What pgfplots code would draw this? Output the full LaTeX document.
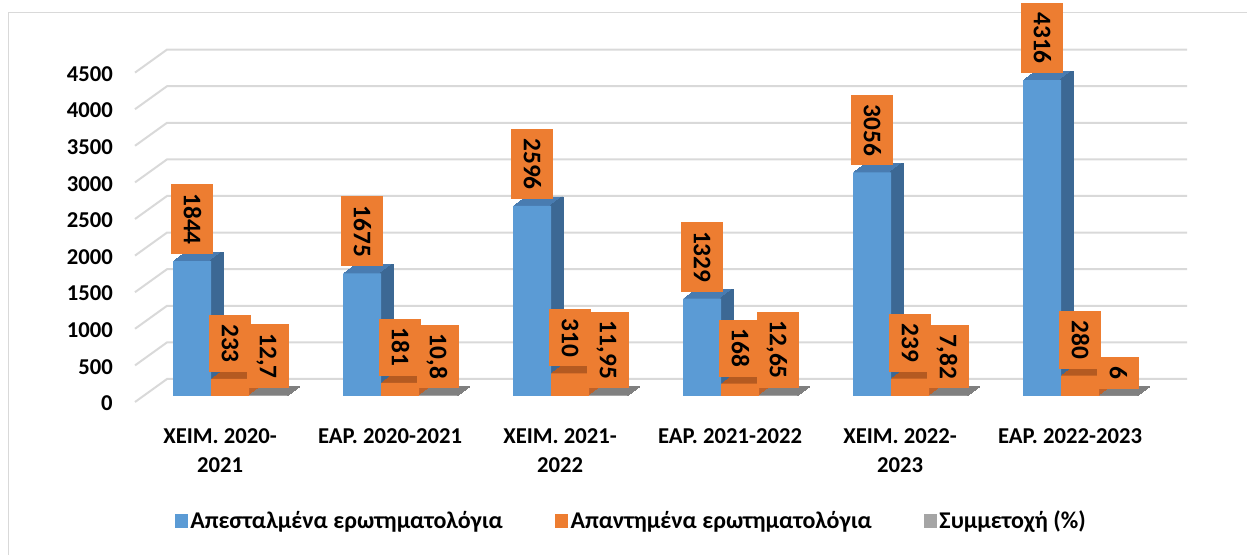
\documentclass[border=0pt]{standalone}
\usepackage{fontspec}
\setmainfont{Carlito}
\usepackage{pgfplots}
\usepackage{pgfplotstable}
\pgfplotsset{compat=1.18}
\definecolor{cblue}{HTML}{5B9BD5}
\definecolor{cbluetop}{HTML}{497CB1}
\definecolor{cbluedk}{HTML}{3C6894}
\definecolor{corange}{HTML}{ED7D31}
\definecolor{corangetop}{HTML}{B45A21}
\definecolor{corangedk}{HTML}{BF6128}
\definecolor{cgray}{HTML}{A5A5A5}
\definecolor{cgraydk}{HTML}{808080}
\definecolor{gridc}{HTML}{D9D9D9}

\pgfplotstableread{
x sent answered rate
0 1844 233 12.7
1 1675 181 10.8
2 2596 310 11.95
3 1329 168 12.65
4 3056 239 7.82
5 4316 280 6
}\datatable

\pgfplotsset{
  barbase/.style={ybar, bar width=28.5pt, draw=none,
    legend image code/.code={\fill[##1] (0pt,-4.9pt) rectangle (9.75pt,4.9pt);}},
  depth/.style={ybar, forget plot, line width=0.5pt},
  lbl/.style={nodes near coords,
    nodes near coords style={xshift=#1, yshift=5pt, rotate=-90, anchor=east, fill=corange, text=black,
      font=\fontsize{19}{19}\selectfont\bfseries, text height=12.2pt, text depth=0pt,
      inner xsep=7pt, inner ysep=9.3pt}},
}

\begin{document}
\begin{tikzpicture}
\draw[gridc, line width=0.75pt] (6pt,-20pt) -- (6pt,405.75pt) -- (960pt,405.75pt);
\begin{axis}[
  set layers,
  at={(108.75pt,118.5pt)}, anchor=south west,
  scale only axis, width=765pt, height=247.05pt,
  xmin=-0.5, xmax=5.5, ymin=0, ymax=4500,
  clip=false,
  axis line style={draw=none}, tick style={draw=none}, major tick length=0pt,
  ytick={0,500,...,4500},
  xtick={0,...,5},
  xticklabels={{ΧΕΙΜ. 2020-\\2021},{ΕΑΡ. 2020-2021},{ΧΕΙΜ. 2021-\\2022},{ΕΑΡ. 2021-2022},{ΧΕΙΜ. 2022-\\2023},{ΕΑΡ. 2022-2023}},
  /pgf/number format/.cd, use comma, 1000 sep={}, assume math mode=true, /pgfplots/.cd,
  yticklabel style={anchor=east, inner sep=0pt, xshift=-24pt, yshift=-5.5pt, font=\fontsize{17}{17}\selectfont\bfseries},
  xticklabel style={anchor=north, align=center, inner sep=0pt, xshift=-7.5pt, yshift=-24pt, font=\fontsize{17}{21.75}\selectfont\bfseries},
  legend columns=3,
  legend style={at={(0.477,-0.3795)}, anchor=center, draw=none, fill=none,
    font=\fontsize{18}{18}\selectfont\bfseries,
    nodes={inner xsep=2pt},
    /tikz/every even column/.append style={column sep=37pt}},
  legend cell align=left,
]
\begin{pgfonlayer}{axis background}
\pgfplotsinvokeforeach{0,500,...,4500}{
  \draw[gridc, line width=1.5pt]
    ([xshift=-7.5pt,yshift=-4.5pt]axis cs:-0.5,#1) --
    ([xshift=16.5pt,yshift=12.75pt]axis cs:-0.5,#1) --
    ([xshift=16.5pt,yshift=12.75pt]axis cs:5.5,#1);
}
\end{pgfonlayer}
% blue
\pgfplotsinvokeforeach{12,11,...,1}{
  \addplot[depth, bar width=28.5pt, bar shift=-28.5pt, fill=cbluetop, draw=cbluetop, xshift=#1*0.75pt, yshift=#1*0.5625pt] table[x=x,y=sent]{\datatable};
}
\pgfplotsinvokeforeach{12,11,...,1}{
  \addplot[depth, bar width=1pt, bar shift=-14.75pt, fill=cbluedk, draw=cbluedk, xshift=#1*0.75pt, yshift=#1*0.5625pt] table[x=x,y=sent]{\datatable};
}
\addplot[barbase, bar shift=-28.5pt, fill=cblue, lbl=-28.5pt] table[x=x,y=sent]{\datatable};
\addlegendentry{Απεσταλμένα ερωτηματολόγια}
% orange
\pgfplotsinvokeforeach{12,11,...,1}{
  \addplot[depth, bar width=28.5pt, bar shift=0pt, fill=corangetop, draw=corangetop, xshift=#1*0.75pt, yshift=#1*0.5625pt] table[x=x,y=answered]{\datatable};
}
\pgfplotsinvokeforeach{12,11,...,1}{
  \addplot[depth, bar width=1pt, bar shift=13.75pt, fill=corangedk, draw=corangedk, xshift=#1*0.75pt, yshift=#1*0.5625pt] table[x=x,y=answered]{\datatable};
}
\addplot[barbase, bar shift=0pt, fill=corange, lbl=0pt] table[x=x,y=answered]{\datatable};
\addlegendentry{Απαντημένα ερωτηματολόγια}
% gray
\pgfplotsinvokeforeach{12,11,...,1}{
  \addplot[depth, bar width=28.5pt, bar shift=28.5pt, fill=cgraydk, draw=cgraydk, xshift=#1*0.75pt, yshift=#1*0.5625pt] table[x=x,y=rate]{\datatable};
}
\addplot[barbase, bar shift=28.5pt, fill=cgray, lbl=28.5pt] table[x=x,y=rate]{\datatable};
\addlegendentry{Συμμετοχή (\%)}
\end{axis}
\pgfresetboundingbox
\useasboundingbox (0,0) rectangle (935.25pt,415.5pt);
\end{tikzpicture}
\end{document}
